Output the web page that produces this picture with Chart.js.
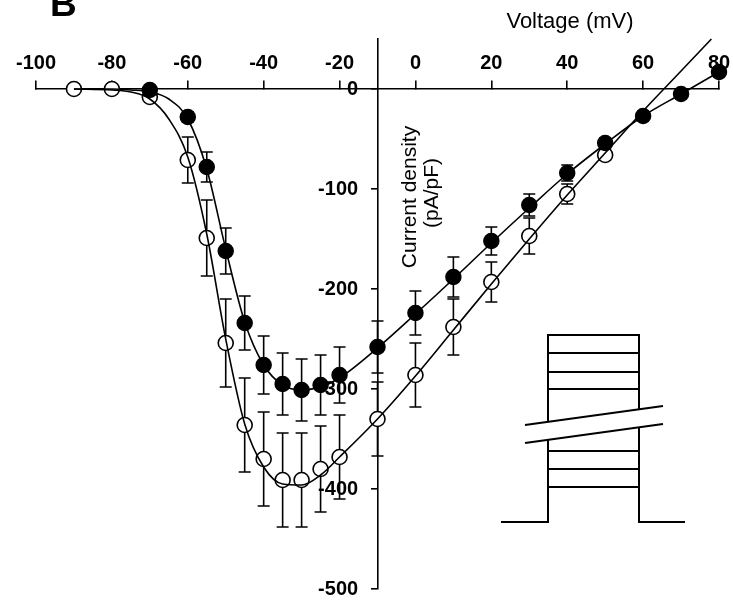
<!DOCTYPE html>
<html>
<head>
<meta charset="utf-8">
<script src="https://cdn.jsdelivr.net/npm/chart.js@4/dist/chart.umd.min.js"></script>
<style>
html,body{margin:0;padding:0;background:#fff;}
#wrap{width:733px;height:600px;position:relative;}
</style>
</head>
<body>
<div id="wrap"><canvas id="c" width="733" height="600"></canvas></div>
<script>
// ---- data ----
const xTicks = [-100,-80,-60,-40,-20,0,20,40,60,80];
const yTicks = [-500,-400,-300,-200,-100,0];

// open circles
const openV   = [-90,-80,-70,-60,-55,-50,-45,-40,-35,-30,-25,-20,-10,0,10,20,30,40,50];
const openI   = [0,0,-8,-71,-149,-254,-336,-370,-391,-391,-380,-368,-330,-286,-238,-193,-147,-105,-66];
const openErr = [0,0,0,23,38,44,47,47,47,47,43,42,37,32,28,20,18,10,5];

// filled circles
const fillV   = [-70,-60,-55,-50,-45,-40,-35,-30,-25,-20,-10,0,10,20,30,40,50,60,70,80];
const fillI   = [-1,-28,-78,-162,-234,-276,-295,-301,-296,-286,-258,-224,-188,-152,-116,-84,-54,-27,-5,17];
const fillErr = [0,5,15,23,27,29,31,31,30,28,26,22,20,14,11,8,5,3,2,2];

// fitted curves
const fitOpenV = [-90,-80,-75,-70,-65,-60,-55,-50,-45,-40,-35,-30,-25,-20,-10,0,10,20,30,40,50,60,70,78];
const fitOpenI = [0,-1,-3,-10,-30,-68,-145,-250,-335,-378,-395,-396,-386,-368,-330,-287,-241,-195,-150,-106,-64,-22,18,50];
const fitFillV = [-90,-80,-75,-70,-65,-60,-55,-50,-45,-40,-35,-30,-25,-20,-10,0,10,20,30,40,50,60,70,80];
const fitFillI = [0,0,-1,-3,-10,-30,-80,-160,-233,-276,-296,-301,-298,-289,-259,-225,-190,-154,-119,-85,-55,-27,-5,17];

const toXY = (xs, ys) => xs.map((x,i)=>({x:x, y:ys[i]}));

const errorBars = {
  id:'errorBars',
  beforeDatasetsDraw(chart){
    const ctx = chart.ctx, xs = chart.scales.x, ys = chart.scales.y;
    ctx.save();
    ctx.strokeStyle = '#000'; ctx.lineWidth = 1.6;
    const draw = (vs, is, es) => {
      vs.forEach((v,i)=>{
        const e = es[i]; if (!e) return;
        const px = xs.getPixelForValue(v);
        const y1 = ys.getPixelForValue(is[i]+e), y2 = ys.getPixelForValue(is[i]-e);
        ctx.beginPath();
        ctx.moveTo(px,y1); ctx.lineTo(px,y2);
        ctx.moveTo(px-6,y1); ctx.lineTo(px+6,y1);
        ctx.moveTo(px-6,y2); ctx.lineTo(px+6,y2);
        ctx.stroke();
      });
    };
    draw(fillV, fillI, fillErr);
    draw(openV, openI, openErr);
    ctx.restore();
  }
};

const decorations = {
  id:'decorations',
  afterDraw(chart){
    const ctx = chart.ctx;
    ctx.save();
    ctx.fillStyle = '#000';
    // panel letter
    ctx.font = 'bold 37px "Liberation Sans", Arial, sans-serif';
    ctx.textAlign = 'left'; ctx.textBaseline = 'alphabetic';
    ctx.fillText('B', 50, 16);
    // x axis title
    ctx.font = '22px "Liberation Sans", Arial, sans-serif';
    ctx.textAlign = 'center'; ctx.textBaseline = 'middle';
    ctx.fillText('Voltage (mV)', 570, 22);
    // y axis title (rotated)
    ctx.font = '21px "Liberation Sans", Arial, sans-serif';
    ctx.save();
    ctx.translate(410, 197); ctx.rotate(-Math.PI/2);
    ctx.fillText('Current density', 0, 0);
    ctx.restore();
    ctx.save();
    ctx.translate(432, 193); ctx.rotate(-Math.PI/2);
    ctx.fillText('(pA/pF)', 0, 0);
    ctx.restore();
    // voltage protocol inset
    ctx.strokeStyle = '#000'; ctx.lineWidth = 2;
    ctx.beginPath();
    ctx.moveTo(501,522); ctx.lineTo(548,522); ctx.lineTo(548,335); ctx.lineTo(639,335); ctx.lineTo(639,522); ctx.lineTo(685,522);
    [353,372,389,451,469,487].forEach(y=>{ ctx.moveTo(548,y); ctx.lineTo(639,y); });
    ctx.stroke();
    ctx.fillStyle = '#fff';
    ctx.beginPath();
    ctx.moveTo(525,425); ctx.lineTo(663,406); ctx.lineTo(663,424); ctx.lineTo(525,443); ctx.closePath();
    ctx.fill();
    ctx.beginPath();
    ctx.moveTo(525,425); ctx.lineTo(663,406);
    ctx.moveTo(525,443); ctx.lineTo(663,424);
    ctx.stroke();
    ctx.restore();
  }
};

const tickFont = {family:'"Liberation Sans", Arial, sans-serif', size:20, weight:'bold'};
const yTickFont = {family:'"Liberation Sans", Arial, sans-serif', size:20, weight:'bold', lineHeight:1};

new Chart(document.getElementById('c'), {
  type:'scatter',
  data:{
    datasets:[
      {label:'fit filled', data:toXY(fitFillV, fitFillI), showLine:true, pointRadius:0, borderColor:'#000', borderWidth:1.6, cubicInterpolationMode:'monotone', clip:false},
      {label:'fit open', data:toXY(fitOpenV, fitOpenI), showLine:true, pointRadius:0, borderColor:'#000', borderWidth:1.6, cubicInterpolationMode:'monotone', clip:false},
      {label:'filled', data:toXY(fillV, fillI), showLine:false, pointRadius:7.5, pointBackgroundColor:'#000', pointBorderColor:'#000', pointBorderWidth:1.5, clip:false},
      {label:'open', data:toXY(openV, openI), showLine:false, pointRadius:7.5, pointBackgroundColor:'#fff', pointBorderColor:'#000', pointBorderWidth:1.6, clip:false}
    ]
  },
  options:{
    responsive:false, animation:false,
    layout:{padding:{left:36, right:14, top:39, bottom:11}},
    plugins:{legend:{display:false}, tooltip:{enabled:false}},
    scales:{
      x:{
        type:'linear', min:-100, max:80, position:{y:0},
        afterBuildTicks(s){ s.ticks = xTicks.map(v=>({value:v})); },
        grid:{drawOnChartArea:false, tickLength:-9, color:'#000', lineWidth:1.6},
        border:{display:true, color:'#000', width:1.6},
        ticks:{color:'#000', font:tickFont, padding:-29, maxRotation:0, autoSkip:false}
      },
      y:{
        type:'linear', min:-500, max:50, position:{x:-10},
        afterBuildTicks(s){ s.ticks = yTicks.map(v=>({value:v})); },
        grid:{drawOnChartArea:false, tickLength:6, color:'#000', lineWidth:1.6},
        border:{display:true, color:'#000', width:1.6},
        ticks:{display:false}
      },
      yLabels:{
        type:'linear', axis:'y', min:-500, max:50, position:{x:-15.1},
        afterBuildTicks(s){ s.ticks = yTicks.map(v=>({value:v})); },
        grid:{display:false},
        border:{display:false},
        ticks:{color:'#000', font:yTickFont, padding:0, autoSkip:false}
      }
    }
  },
  plugins:[errorBars, decorations]
});
</script>
</body>
</html>
